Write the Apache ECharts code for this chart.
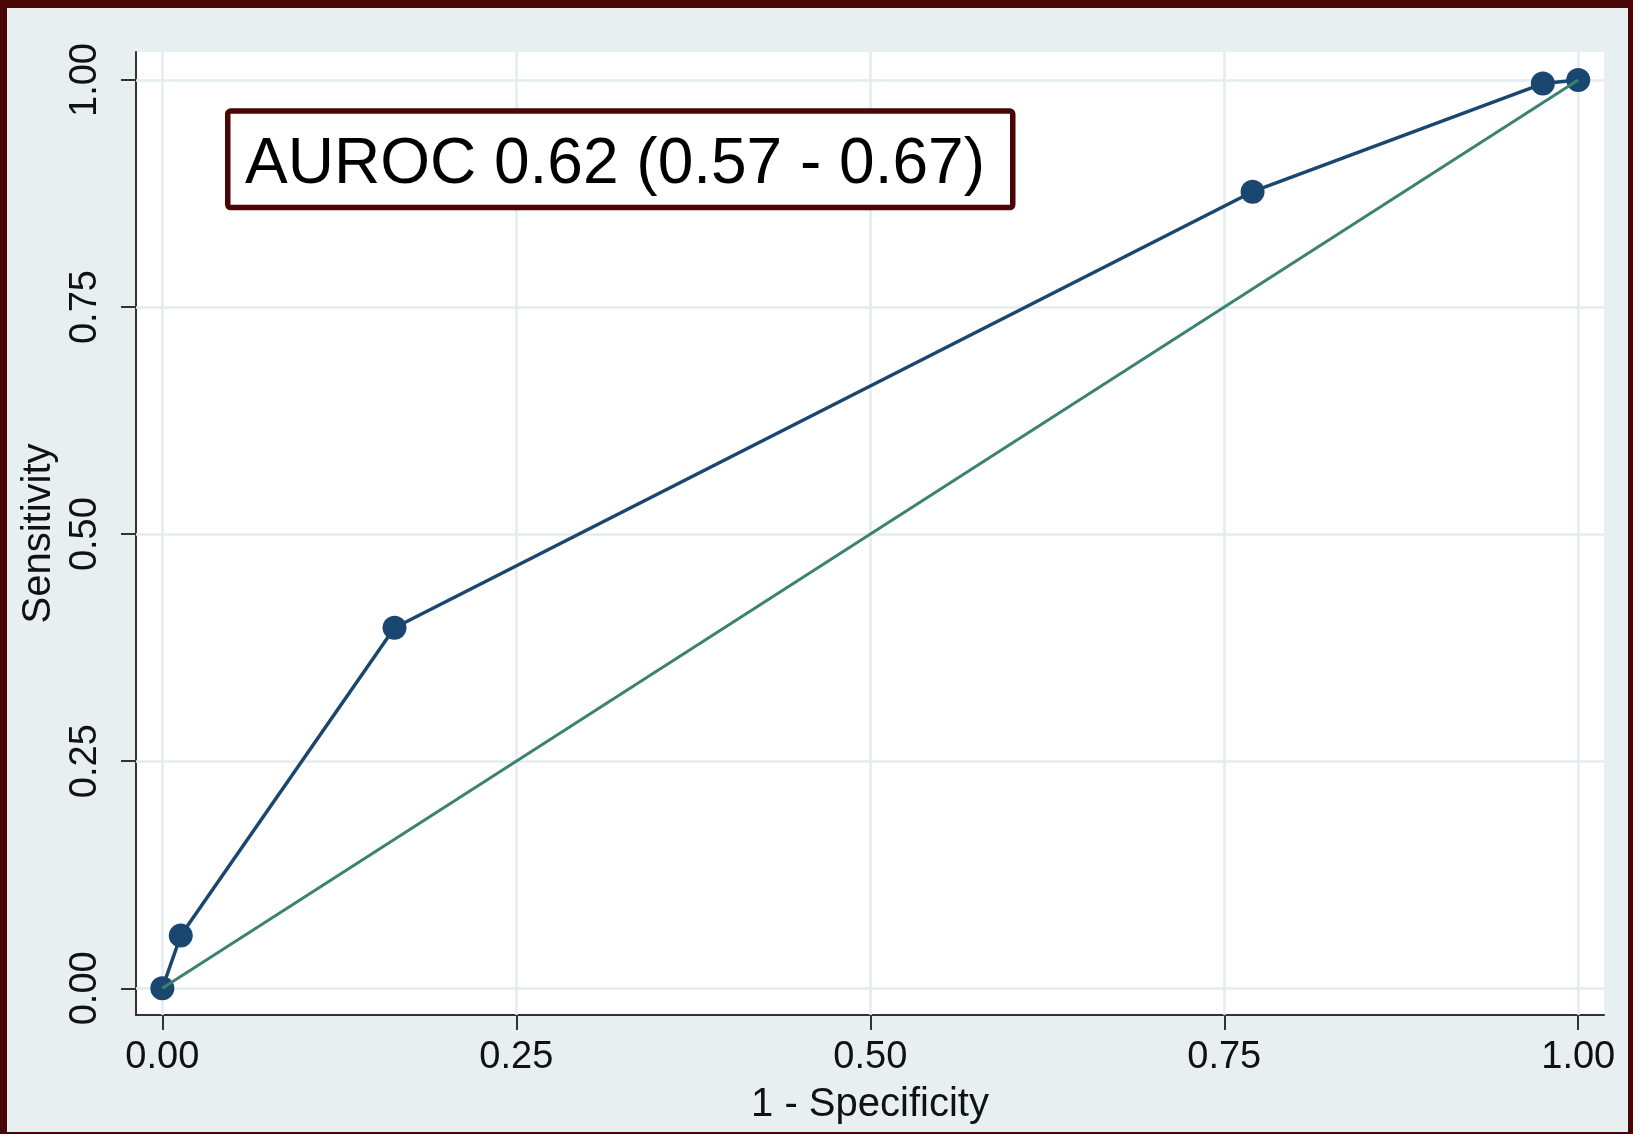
<!DOCTYPE html>
<html>
<head>
<meta charset="utf-8">
<script src="https://cdn.jsdelivr.net/npm/echarts@6/dist/echarts.min.js"></script>
<style>
  html, body { margin: 0; padding: 0; width: 1633px; height: 1134px; background: #4a0505; overflow: hidden; }
  #chart { position: absolute; left: 7px; top: 8px; width: 1621px; height: 1124px; }
</style>
</head>
<body>
<div id="chart"></div>
<script>
// ROC curve points (1 - specificity, sensitivity)
const rocFpr = [0, 0.013, 0.164, 0.770, 0.975, 1.0];
const rocTpr = [0, 0.058, 0.397, 0.877, 0.996, 1.0];
// Reference (chance) line
const refFpr = [0, 1];
const refTpr = [0, 1];
// Tick values / labels
const tickValues = [0, 0.25, 0.5, 0.75, 1];
const xTitle = '1 - Specificity';
const yTitle = 'Sensitivity';
const annotation = 'AUROC 0.62 (0.57 - 0.67)';

const rocData = rocFpr.map((x, i) => [x, rocTpr[i]]);
const refData = refFpr.map((x, i) => [x, refTpr[i]]);

const font = '"Liberation Sans", Arial, Helvetica, sans-serif';
const gridLineData = tickValues.map(v => ({ xAxis: v })).concat(tickValues.map(v => ({ yAxis: v })));

const chart = echarts.init(document.getElementById('chart'));
chart.setOption({
  backgroundColor: '#e8eff1',
  animation: false,
  grid: {
    left: 129, top: 44, right: 24, bottom: 117,
    show: true, backgroundColor: '#ffffff', borderWidth: 0
  },
  xAxis: {
    type: 'value',
    min: -0.0186, max: 1.0182,
    name: xTitle,
    nameLocation: 'middle',
    nameGap: 70,
    nameTextStyle: { fontFamily: font, fontSize: 40, color: '#111' },
    axisLine: { show: true, onZero: false, lineStyle: { color: '#333', width: 2 } },
    axisTick: { show: true, length: 15, customValues: tickValues, lineStyle: { color: '#333', width: 2 } },
    axisLabel: {
      customValues: tickValues, margin: 24,
      fontFamily: font, fontSize: 38, color: '#111',
      formatter: v => v.toFixed(2)
    },
    splitLine: { show: false }
  },
  yAxis: {
    type: 'value',
    min: -0.0294, max: 1.0308,
    name: yTitle,
    nameLocation: 'middle',
    nameGap: 74,
    nameRotate: 90,
    nameTextStyle: { fontFamily: font, fontSize: 40, color: '#111' },
    axisLine: { show: true, onZero: false, lineStyle: { color: '#333', width: 2 } },
    axisTick: { show: true, length: 15, customValues: tickValues, lineStyle: { color: '#333', width: 2 } },
    axisLabel: {
      customValues: tickValues, margin: 31, rotate: 90,
      fontFamily: font, fontSize: 38, color: '#111',
      formatter: v => v.toFixed(2)
    },
    splitLine: { show: false }
  },
  series: [
    {
      name: 'grid',
      type: 'line',
      data: [],
      silent: true,
      z: 1,
      markLine: {
        silent: true,
        z: 1,
        symbol: 'none',
        label: { show: false },
        lineStyle: { color: '#e3ecef', width: 2.5, type: 'solid' },
        data: gridLineData
      }
    },
    {
      name: 'ROC',
      type: 'line',
      data: rocData,
      z: 3,
      symbol: 'circle',
      symbolSize: 24,
      lineStyle: { color: '#1a476f', width: 3.5 },
      itemStyle: { color: '#1a476f' }
    },
    {
      name: 'Reference',
      type: 'line',
      data: refData,
      z: 4,
      symbol: 'none',
      lineStyle: { color: '#3b8270', width: 3 }
    }
  ],
  graphic: [
    {
      type: 'rect',
      z: 10,
      shape: { x: 220.75, y: 103, width: 785, height: 96.6, r: 3 },
      style: { fill: '#ffffff', stroke: '#4a0505', lineWidth: 5.5 }
    },
    {
      type: 'text',
      z: 11,
      x: 608, y: 157,
      style: {
        text: annotation,
        fontFamily: font, fontSize: 64, fill: '#000',
        align: 'center', verticalAlign: 'middle'
      }
    }
  ]
});
</script>
</body>
</html>
